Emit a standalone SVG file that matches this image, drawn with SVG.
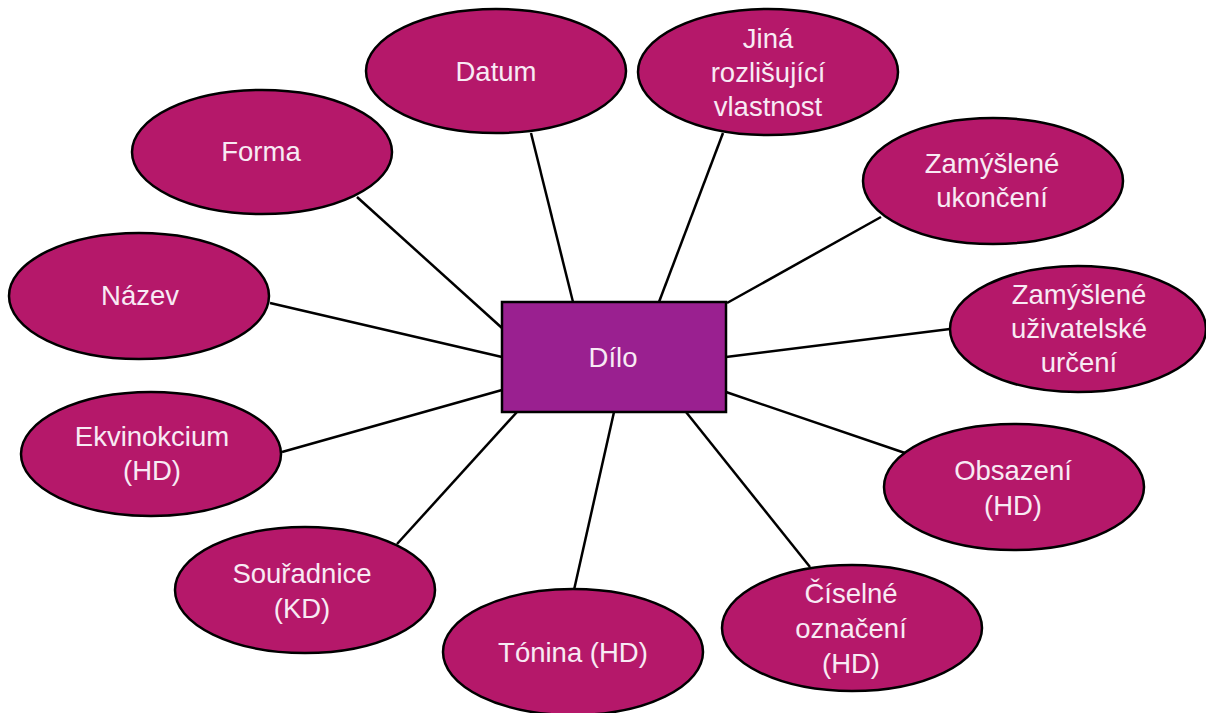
<svg xmlns="http://www.w3.org/2000/svg" width="1206" height="713" viewBox="0 0 1206 713">
<style>
.conn line{stroke:#000;stroke-width:2.5}
.node ellipse{fill:#B5186A;stroke:#000;stroke-width:2.5}
.node rect{fill:#9A2090;stroke:#000;stroke-width:2.5}
text{font-family:"Liberation Sans",Arial,sans-serif;font-size:27.5px;fill:#F8EAF4;text-anchor:middle}
</style>
<rect width="1206" height="713" fill="#fff"/>
<g id="connectors" class="conn">
<line x1="531" y1="133" x2="573" y2="302"/>
<line x1="723" y1="133" x2="659" y2="302"/>
<line x1="357" y1="197" x2="502" y2="328"/>
<line x1="881" y1="217" x2="727" y2="303"/>
<line x1="270" y1="303" x2="502" y2="357"/>
<line x1="950" y1="329" x2="726" y2="357"/>
<line x1="282" y1="452" x2="502" y2="390"/>
<line x1="905" y1="453" x2="726" y2="392"/>
<line x1="397" y1="544" x2="517" y2="412"/>
<line x1="810" y1="567" x2="686" y2="412"/>
<line x1="574" y1="590" x2="614" y2="412"/>
</g>
<g id="datum" class="node"><ellipse cx="496" cy="71" rx="130" ry="62"/><text x="496" y="81">Datum</text></g>
<g id="jina" class="node"><ellipse cx="768" cy="72" rx="130" ry="63"/><text x="768" y="48">Jiná</text><text x="768" y="82">rozlišující</text><text x="768" y="116">vlastnost</text></g>
<g id="forma" class="node"><ellipse cx="262" cy="152" rx="130" ry="62"/><text x="261" y="161">Forma</text></g>
<g id="ukonceni" class="node"><ellipse cx="993" cy="181" rx="130" ry="63"/><text x="992" y="173">Zamýšlené</text><text x="992" y="207">ukončení</text></g>
<g id="nazev" class="node"><ellipse cx="139" cy="296" rx="130" ry="63"/><text x="140" y="305">Název</text></g>
<g id="urceni" class="node"><ellipse cx="1078" cy="329" rx="128" ry="63"/><text x="1079" y="304">Zamýšlené</text><text x="1079" y="338">uživatelské</text><text x="1079" y="372">určení</text></g>
<g id="dilo" class="node"><rect x="502" y="302" width="224" height="110"/><text x="613" y="367">Dílo</text></g>
<g id="ekvinokcium" class="node"><ellipse cx="151" cy="454" rx="130" ry="62"/><text x="152" y="446">Ekvinokcium</text><text x="152" y="480">(HD)</text></g>
<g id="obsazeni" class="node"><ellipse cx="1014" cy="487" rx="130" ry="63"/><text x="1013" y="480">Obsazení</text><text x="1013" y="515">(HD)</text></g>
<g id="souradnice" class="node"><ellipse cx="305" cy="590" rx="130" ry="63"/><text x="302" y="583">Souřadnice</text><text x="302" y="618">(KD)</text></g>
<g id="ciselne" class="node"><ellipse cx="852" cy="628" rx="130" ry="63"/><text x="851" y="603">Číselné</text><text x="851" y="638">označení</text><text x="851" y="673">(HD)</text></g>
<g id="tonina" class="node"><ellipse cx="573" cy="652" rx="130" ry="63"/><text x="573" y="662">Tónina (HD)</text></g>
</svg>
